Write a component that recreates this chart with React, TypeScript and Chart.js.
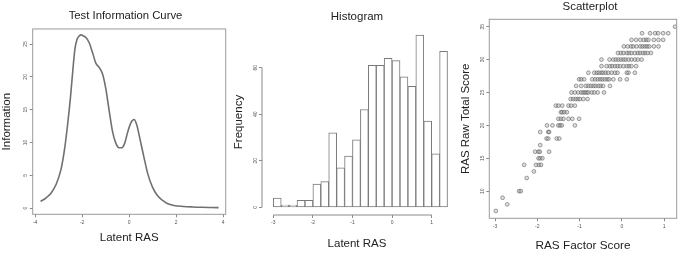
import React, { useEffect, useRef } from "react";
import { Chart, registerables } from "chart.js";

Chart.register(...registerables);

const FONT = "'Liberation Sans', Arial, Helvetica, sans-serif";
const TEXT = "#222222";
const TICK_TEXT = "#555555";
const TICK_LINE = "#8a8a8a";

// ---------- Panel 1: Test Information Curve ----------
const ticTheta = [-3.77, -3.53, -3.32, -3.11, -2.9, -2.76, -2.62, -2.5, -2.4, -2.31, -2.22, -2.12, -2.05, -1.98, -1.84, -1.7, -1.56, -1.42, -1.27, -1.13, -0.99, -0.85, -0.71, -0.57, -0.43, -0.31, -0.19, -0.07, 0.07, 0.21, 0.32, 0.46, 0.63, 0.8, 0.99, 1.2, 1.41, 1.62, 1.9, 2.3, 2.7, 3.1, 3.5, 3.8];
const ticInfo = [1.02, 1.57, 2.3, 3.6, 5.9, 8.7, 12.7, 16.8, 20.9, 24.2, 25.7, 26.25, 26.4, 26.3, 26.0, 25.2, 23.7, 22.1, 21.4, 20.4, 18.1, 14.8, 11.7, 9.9, 9.2, 9.2, 9.9, 11.5, 13.0, 13.5, 12.7, 10.5, 7.7, 5.1, 3.2, 1.9, 1.2, 0.7, 0.4, 0.25, 0.17, 0.12, 0.09, 0.07];
const ticXTicks = [-4, -2, 0, 2, 4];
const ticYTicks = [0, 5, 10, 15, 20, 25];

// ---------- Panel 2: Histogram ----------
const histBinMids = [-2.9, -2.7, -2.5, -2.3, -2.1, -1.9, -1.7, -1.5, -1.3, -1.1, -0.9, -0.7, -0.5, -0.3, -0.1, 0.1, 0.3, 0.5, 0.7, 0.9, 1.1, 1.3];
const histCounts = [4, 1, 1, 3, 3, 10, 11, 32, 17, 22, 29, 42, 61, 61, 64, 63, 56, 52, 74, 37, 23, 67];
const histXTicks = [-3, -2, -1, 0, 1];
const histYTicks = [0, 20, 40, 60];

// ---------- Panel 3: Scatterplot ----------
const rawScoreLevels = [35, 34, 33, 32, 31, 30, 29, 28, 27, 26, 25, 24, 23, 22, 21, 20, 19, 18, 17, 16, 15, 14, 13, 12, 10, 9, 8, 7];
const factorScoresByLevel = [
  [1.26],
  [0.48, 0.67, 0.79, 0.86, 0.98, 1.1],
  [0.23, 0.34, 0.44, 0.52, 0.58, 0.63, 0.76, 0.87, 0.98],
  [0.05, 0.14, 0.22, 0.27, 0.35, 0.44, 0.49, 0.55, 0.6, 0.65, 0.76, 0.87],
  [-0.09, -0.02, 0.04, 0.12, 0.17, 0.23, 0.31, 0.38, 0.43, 0.5, 0.55, 0.61, 0.69],
  [-0.48, -0.29, -0.2, -0.14, -0.08, -0.02, 0.04, 0.09, 0.16, 0.23, 0.31, 0.38, 0.47],
  [-0.48, -0.36, -0.28, -0.23, -0.16, -0.1, -0.04, 0.04, 0.12, 0.17, 0.23, 0.34],
  [-0.79, -0.65, -0.59, -0.54, -0.48, -0.44, -0.38, -0.32, -0.24, -0.16, -0.1, 0.12, 0.16, 0.31],
  [-1.01, -0.96, -0.89, -0.7, -0.63, -0.57, -0.51, -0.46, -0.4, -0.34, -0.3, -0.2, -0.04, 0.12],
  [-1.08, -0.96, -0.85, -0.79, -0.73, -0.67, -0.62, -0.55, -0.5, -0.44, -0.28],
  [-1.19, -1.11, -1.03, -0.96, -0.91, -0.87, -0.83, -0.79, -0.71, -0.65, -0.57, -0.42],
  [-1.21, -1.15, -1.09, -1.04, -0.99, -0.91, -0.81],
  [-1.56, -1.5, -1.41, -1.26, -1.2, -1.11],
  [-1.44, -1.41, -1.36, -1.3],
  [-1.5, -1.44, -1.38, -1.26, -1.17, -1.01],
  [-1.77, -1.64, -1.5, -1.46, -1.42, -1.11],
  [-1.93, -1.74, -1.72],
  [-1.78, -1.74, -1.54, -1.48],
  [-1.93],
  [-2.05, -1.97, -1.94, -1.72],
  [-1.97, -1.93, -1.88],
  [-2.31, -2.03, -1.96, -1.91],
  [-2.08],
  [-2.25],
  [-2.43, -2.39],
  [-2.82],
  [-2.71],
  [-2.98],
];
const scatXTicks = [-3, -2, -1, 0, 1];
const scatYTicks = [10, 15, 20, 25, 30, 35];

// ---------- shared helpers ----------
const setTicks = (vals: number[]) => (s: any) => {
  s.ticks = vals.map((v) => ({ value: v }));
};

const tickGrid = {
  display: true,
  drawOnChartArea: false,
  drawTicks: true,
  tickLength: 3,
  color: TICK_LINE,
  lineWidth: 1,
};

const xTickOpts = {
  font: { family: FONT, size: 5 },
  color: TICK_TEXT,
  padding: 2,
  autoSkip: false,
  maxRotation: 0,
  minRotation: 0,
};

const yTickOpts = {
  font: { family: FONT, size: 5 },
  color: TICK_TEXT,
  padding: 1,
  autoSkip: false,
  minRotation: 90,
  maxRotation: 90,
  crossAlign: "center",
};

const boxPlugin = {
  id: "rbox",
  afterDraw(chart: any) {
    const { ctx, chartArea: a } = chart;
    ctx.save();
    ctx.strokeStyle = "#9a9a9a";
    ctx.lineWidth = 1;
    ctx.strokeRect(a.left, a.top, a.right - a.left, a.bottom - a.top);
    ctx.restore();
  },
};

const axisLinePlugin = {
  id: "raxis",
  afterDraw(chart: any) {
    const { ctx } = chart;
    const xs = chart.scales.x;
    const ys = chart.scales.y;
    ctx.save();
    ctx.strokeStyle = TICK_LINE;
    ctx.lineWidth = 1;
    ctx.beginPath();
    ctx.moveTo(xs.getPixelForValue(xs.ticks[0].value), xs.top);
    ctx.lineTo(xs.getPixelForValue(xs.ticks[xs.ticks.length - 1].value), xs.top);
    ctx.moveTo(ys.right, ys.getPixelForValue(ys.ticks[0].value));
    ctx.lineTo(ys.right, ys.getPixelForValue(ys.ticks[ys.ticks.length - 1].value));
    ctx.stroke();
    ctx.restore();
  },
};

const dummyRight = (w: number) => ({
  position: "right",
  display: true,
  grid: { display: false },
  border: { display: false },
  ticks: { display: false },
  afterFit: (s: any) => {
    s.width = w;
  },
});

const baseOpts = {
  responsive: false,
  maintainAspectRatio: false,
  animation: false,
  devicePixelRatio: 1,
  events: [],
};

// ---------- configs ----------
const ticConfig = (): any => ({
  type: "line",
  data: {
    datasets: [
      {
        data: ticTheta.map((t, i) => ({ x: t, y: ticInfo[i] })),
        borderColor: "#707070",
        borderWidth: 1.6,
        pointRadius: 0,
        fill: false,
        cubicInterpolationMode: "monotone",
      },
    ],
  },
  options: {
    ...baseOpts,
    layout: { padding: 0 },
    plugins: {
      legend: { display: false },
      tooltip: { enabled: false },
      title: {
        display: true,
        text: "Test Information Curve",
        font: { family: FONT, size: 11.3, weight: "normal" },
        color: TEXT,
        padding: { top: 9.2, bottom: 6.2 },
        fullSize: true,
      },
    },
    scales: {
      x: {
        type: "linear",
        min: -4.104,
        max: 4.104,
        afterBuildTicks: setTicks(ticXTicks),
        afterFit: (s: any) => {
          s.height = 38.7;
        },
        grid: tickGrid,
        border: { display: false },
        ticks: xTickOpts,
        title: {
          display: true,
          text: "Latent RAS",
          font: { family: FONT, size: 11.5 },
          color: TEXT,
          padding: { top: 0, bottom: 7.8 },
        },
      },
      y: {
        type: "linear",
        min: -0.95,
        max: 27.3,
        afterBuildTicks: setTicks(ticYTicks),
        afterFit: (s: any) => {
          s.width = 32.7;
        },
        grid: tickGrid,
        border: { display: false },
        ticks: yTickOpts,
        title: {
          display: true,
          text: "Information",
          font: { family: FONT, size: 11.5 },
          color: TEXT,
          padding: { top: 0, bottom: 0 },
        },
      },
      yR: dummyRight(25.3),
    },
  },
  plugins: [boxPlugin],
});

const histConfig = (): any => ({
  type: "bar",
  data: {
    datasets: [
      {
        data: histBinMids.map((m, i) => ({ x: m, y: histCounts[i] })),
        backgroundColor: "#ffffff",
        borderColor: "#7a7a7a",
        borderWidth: 1,
        borderSkipped: false,
        barPercentage: 1,
        categoryPercentage: 1,
      },
    ],
  },
  options: {
    ...baseOpts,
    layout: { padding: { left: 0, top: 0, bottom: 0, right: 8 } },
    plugins: {
      legend: { display: false },
      tooltip: { enabled: false },
      title: {
        display: true,
        text: "Histogram",
        font: { family: FONT, size: 11.5, weight: "normal" },
        color: TEXT,
        padding: { top: 10.4, bottom: 4.8 },
        fullSize: false,
      },
    },
    scales: {
      x: {
        type: "linear",
        offset: false,
        min: -3.285,
        max: 1.513,
        afterBuildTicks: setTicks(histXTicks),
        afterFit: (s: any) => {
          s.height = 38;
        },
        grid: { ...tickGrid, offset: false },
        border: { display: false },
        ticks: xTickOpts,
        title: {
          display: true,
          text: "Latent RAS",
          font: { family: FONT, size: 11.5 },
          color: TEXT,
          padding: { top: 0, bottom: 2.1 },
        },
      },
      y: {
        type: "linear",
        min: -3.31,
        max: 76.6,
        afterBuildTicks: setTicks(histYTicks),
        afterFit: (s: any) => {
          s.width = 34;
        },
        grid: tickGrid,
        border: { display: false },
        ticks: yTickOpts,
        title: {
          display: true,
          text: "Frequency",
          font: { family: FONT, size: 11.5 },
          color: TEXT,
          padding: { top: 4.4, bottom: 0 },
        },
      },
    },
  },
  plugins: [axisLinePlugin],
});

const scatConfig = (): any => {
  const pts: { x: number; y: number }[] = [];
  rawScoreLevels.forEach((lvl, i) => {
    factorScoresByLevel[i].forEach((f) => pts.push({ x: f, y: lvl }));
  });
  return {
    type: "scatter",
    data: {
      datasets: [
        {
          data: pts,
          pointRadius: 1.9,
          pointBorderWidth: 0.9,
          pointBackgroundColor: "rgba(160,160,160,0.35)",
          pointBorderColor: "rgba(85,85,85,0.6)",
        },
      ],
    },
    options: {
      ...baseOpts,
      layout: { padding: 0 },
      plugins: {
        legend: { display: false },
        tooltip: { enabled: false },
        title: {
          display: true,
          text: "Scatterplot",
          font: { family: FONT, size: 11.5, weight: "normal" },
          color: TEXT,
          padding: { top: 0.1, bottom: 5.4 },
          fullSize: true,
        },
      },
      scales: {
        x: {
          type: "linear",
          min: -3.135,
          max: 1.3,
          afterBuildTicks: setTicks(scatXTicks),
          afterFit: (s: any) => {
            s.height = 34.7;
          },
          grid: tickGrid,
          border: { display: false },
          ticks: xTickOpts,
          title: {
            display: true,
            text: "RAS Factor Score",
            font: { family: FONT, size: 11.8 },
            color: TEXT,
            padding: { top: 0, bottom: 0 },
          },
        },
        y: {
          type: "linear",
          min: 5.88,
          max: 36.12,
          afterBuildTicks: setTicks(scatYTicks),
          afterFit: (s: any) => {
            s.width = 34.3;
          },
          grid: tickGrid,
          border: { display: false },
          ticks: yTickOpts,
          title: {
            display: true,
            text: "RAS Raw Total Score",
            font: { family: FONT, size: 11.5 },
            color: TEXT,
            padding: { top: 3.8, bottom: 0 },
          },
        },
        yR: dummyRight(48.3),
      },
    },
    plugins: [boxPlugin],
  };
};

function ChartCanvas({ left, width, height, makeConfig }: { left: number; width: number; height: number; makeConfig: () => any }) {
  const ref = useRef<HTMLCanvasElement>(null);
  useEffect(() => {
    const chart = new Chart(ref.current as HTMLCanvasElement, makeConfig());
    return () => chart.destroy();
  }, []);
  return (
    <canvas
      ref={ref}
      width={width}
      height={height}
      style={{ position: "absolute", left, top: 0, width, height }}
    />
  );
}

export default function App() {
  return (
    <div
      style={{
        position: "fixed",
        left: 0,
        top: 0,
        width: 685,
        height: 253,
        background: "#ffffff",
        overflow: "hidden",
      }}
    >
      <ChartCanvas left={0} width={251} height={253} makeConfig={ticConfig} />
      <ChartCanvas left={228} width={232} height={253} makeConfig={histConfig} />
      <ChartCanvas left={455} width={270} height={253} makeConfig={scatConfig} />
    </div>
  );
}
